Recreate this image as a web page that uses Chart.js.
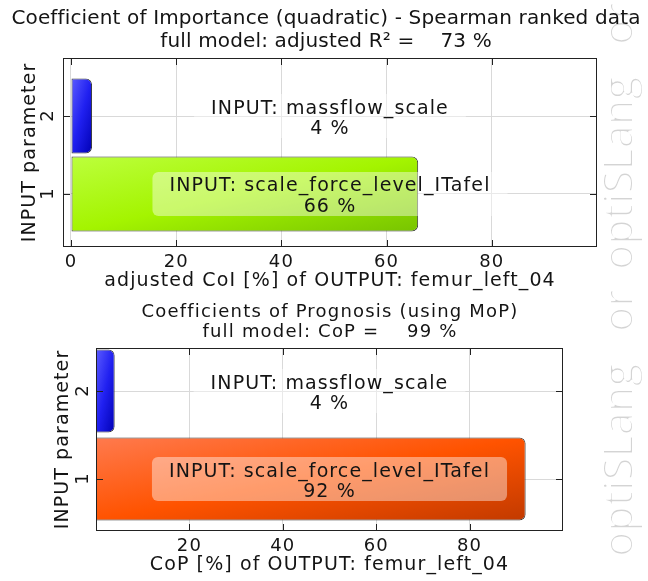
<!DOCTYPE html>
<html>
<head>
<meta charset="utf-8">
<script src="https://cdn.jsdelivr.net/npm/chart.js@4.4.1/dist/chart.umd.min.js"></script>
<style>
  html, body { margin: 0; padding: 0; background: #fff; overflow: hidden; }
  #page { position: relative; width: 648px; height: 581px; }
  #mark { position: absolute; left: 0; top: 0; }
  .box { position: absolute; left: 0; width: 648px; }
  #coiBox { top: 0; height: 295px; }
  #copBox { top: 295px; height: 286px; }
</style>
</head>
<body>
<div id="page">
  <canvas id="mark" width="648" height="581"></canvas>
  <div class="box" id="coiBox"><canvas id="coiChart"></canvas></div>
  <div class="box" id="copBox"><canvas id="copChart"></canvas></div>
</div>
<script>
// input parameters (index on the y axis) and their names
const paramIds = [1, 2];
const paramNames = ["scale_force_level_ITafel", "massflow_scale"];

// adjusted CoI [%] and CoP [%] per parameter
const coiValues = [66, 4];
const copValues = [92, 4];

const coiTicks = [0, 20, 40, 60, 80];
const copTicks = [20, 40, 60, 80];

const coiTitle = ["Coefficient of Importance (quadratic) - Spearman ranked data", "full model: adjusted R\u00b2 =    73 %"];
const copTitle = ["Coefficients of Prognosis (using MoP)", "full model: CoP =    99 %"];
const coiAxisTitle = "adjusted CoI [%] of OUTPUT: femur_left_04";
const copAxisTitle = "CoP [%] of OUTPUT: femur_left_04";

const FONT = '"DejaVu Sans", Verdana, sans-serif';

const green = ["#bcff3c", "#a4f400", "#78c400"];
const blue = ["#5c5cff", "#2020f0", "#0000b4"];
const orange = ["#ff7a4e", "#ff5300", "#c23a00"];

// gradient whose iso-lines run along the bar's anti-diagonal
function diagGradient(ctx, left, top, right, bottom, stops) {
    const w = Math.max(right - left, 1);
    const h = Math.max(bottom - top, 1);
    const s = 2 * w * h / (w * w + h * h);
    const g = ctx.createLinearGradient(left, top, left + s * h, top + s * w);
    stops.forEach((c, i) => g.addColorStop(i / (stops.length - 1), c));
    return g;
}

function barFill(palette, barPct) {
    return (c) => {
        const chart = c.chart;
        const stops = palette[c.dataIndex];
        if (!chart.chartArea || c.type !== "data") {
            return stops[1];
        }
        const xs = chart.scales.x;
        const ys = chart.scales.y;
        const half = Math.abs(ys.getPixelForValue(1) - ys.getPixelForValue(2)) * barPct / 2;
        const yc = ys.getPixelForValue(c.raw.y);
        return diagGradient(chart.ctx, xs.getPixelForValue(0), yc - half, xs.getPixelForValue(c.raw.x), yc + half, stops);
    };
}

// titles, plot frame, inward tick marks, rotated y tick labels and the bar labels
const decor = {
    id: "decor",
    beforeDraw(chart, args, o) {
        chart.ctx.letterSpacing = o.axisSpacing;
    },
    afterDatasetsDraw(chart, args, o) {
        const ctx = chart.ctx;
        const a = chart.chartArea;
        const x = chart.scales.x;
        const y = chart.scales.y;

        ctx.save();
        ctx.strokeStyle = "#222";
        ctx.lineWidth = 1;
        ctx.beginPath();
        x.ticks.forEach((t) => {
            const px = Math.round(x.getPixelForValue(t.value)) + 0.5;
            ctx.moveTo(px, a.top);
            ctx.lineTo(px, a.top + o.tickLen);
            ctx.moveTo(px, a.bottom);
            ctx.lineTo(px, a.bottom - o.tickLen);
        });
        y.ticks.forEach((t) => {
            const py = Math.round(y.getPixelForValue(t.value)) + 0.5;
            ctx.moveTo(a.left, py);
            ctx.lineTo(a.left + o.tickLen, py);
            ctx.moveTo(a.right, py);
            ctx.lineTo(a.right - o.tickLen, py);
        });
        ctx.stroke();
        ctx.strokeRect(Math.round(a.left) + 0.5, Math.round(a.top) + 0.5, Math.round(a.right - a.left) - 1, Math.round(a.bottom - a.top) - 1);

        // y tick labels, read bottom to top
        ctx.fillStyle = "#141414";
        ctx.font = "18px " + FONT;
        ctx.letterSpacing = "0px";
        ctx.textAlign = "center";
        ctx.textBaseline = "middle";
        y.ticks.forEach((t) => {
            ctx.save();
            ctx.translate(a.left - o.yLabelGap, y.getPixelForValue(t.value));
            ctx.rotate(-Math.PI / 2);
            ctx.fillText(String(t.value), 0, 1);
            ctx.restore();
        });

        ctx.font = "19px " + FONT;
        ctx.letterSpacing = "1.1px";
        ctx.textAlign = "center";
        ctx.textBaseline = "alphabetic";
        const cx = (a.left + a.right) / 2;
        paramNames.forEach((name, i) => {
            const py = y.getPixelForValue(paramIds[i]);
            const line1 = "INPUT: " + name;
            const line2 = o.values[i] + " %";
            const w = ctx.measureText(line1).width + 34;
            ctx.fillStyle = "rgba(255,255,255,0.42)";
            ctx.beginPath();
            ctx.roundRect(cx - w / 2, py - 22, w, 44, 6);
            ctx.fill();
            ctx.fillStyle = "#141414";
            ctx.fillText(line1, cx, py - 2.5);
            ctx.fillText(line2, cx, py + 18);
        });
        ctx.restore();
    },
    afterDraw(chart, args, o) {
        const ctx = chart.ctx;
        ctx.save();
        ctx.font = o.titleFont;
        ctx.letterSpacing = o.titleSpacing;
        ctx.fillStyle = "#141414";
        ctx.textAlign = "center";
        ctx.textBaseline = "alphabetic";
        o.title.forEach((line, i) => ctx.fillText(line, o.titleX, o.titleBase[i]));
        ctx.restore();
    }
};

function makeChart(id, c) {
    return new Chart(document.getElementById(id), {
        type: "bar",
        data: {
            datasets: [{
                data: paramIds.map((p, i) => ({ x: c.values[i], y: p })),
                backgroundColor: barFill(c.palette, c.barPct),
                borderColor: "#383838",
                borderWidth: 1,
                borderSkipped: false,
                borderRadius: { topLeft: 0, bottomLeft: 0, topRight: 6, bottomRight: 6 },
                barPercentage: c.barPct,
                categoryPercentage: 1
            }]
        },
        options: {
            indexAxis: "y",
            responsive: true,
            maintainAspectRatio: false,
            animation: false,
            layout: { padding: { top: c.padTop, right: c.padRight, left: 0, bottom: 0 } },
            plugins: {
                legend: { display: false },
                tooltip: { enabled: false },
                title: { display: false },
                decor: {
                    title: c.title,
                    titleFont: c.titleFont,
                    titleSpacing: c.titleSpacing,
                    titleX: c.titleX,
                    titleBase: c.titleBase,
                    axisSpacing: "1.1px",
                    tickLen: 7,
                    yLabelGap: c.yLabelGap,
                    values: c.values
                }
            },
            scales: {
                x: {
                    type: "linear",
                    min: c.xMin,
                    max: 100,
                    afterBuildTicks: (s) => { s.ticks = c.xTicks.map((v) => ({ value: v })); },
                    afterFit: (s) => { s.height = c.xHeight; },
                    grid: { color: "#d9d9d9", drawTicks: false },
                    border: { display: false },
                    ticks: { color: "#141414", font: { family: FONT, size: 18 }, padding: c.xTickPad, maxRotation: 0 },
                    title: {
                        display: true,
                        text: c.axisTitle,
                        color: "#141414",
                        font: { family: FONT, size: 19 },
                        padding: { top: 0, bottom: c.xTitlePad }
                    }
                },
                y: {
                    type: "linear",
                    offset: false,
                    min: c.yMin,
                    max: c.yMax,
                    afterBuildTicks: (s) => { s.ticks = paramIds.map((v) => ({ value: v })); },
                    afterFit: (s) => { s.width = c.yWidth; },
                    grid: { color: "#d9d9d9", drawTicks: false, offset: false },
                    border: { display: false },
                    ticks: { display: false },
                    title: {
                        display: true,
                        text: "INPUT parameter",
                        color: "#141414",
                        font: { family: FONT, size: 19 },
                        padding: { top: c.yTitlePad, bottom: 0 }
                    }
                }
            }
        },
        plugins: [decor]
    });
}

makeChart("coiChart", {
    values: coiValues,
    palette: [green, blue],
    barPct: 0.96,
    title: coiTitle,
    titleFont: "20px " + FONT,
    titleSpacing: "0.15px",
    titleX: 326,
    titleBase: [24, 47],
    axisTitle: coiAxisTitle,
    xTicks: coiTicks,
    xMin: -1.52,
    yMin: 0.32,
    yMax: 2.744,
    padTop: 58,
    padRight: 51,
    xHeight: 48,
    yWidth: 63,
    xTickPad: 4.2,
    xTitlePad: 2.6,
    yLabelGap: 15.5,
    yTitlePad: 18.6
});

makeChart("copChart", {
    values: copValues,
    palette: [orange, blue],
    barPct: 0.943,
    title: copTitle,
    titleFont: "18px " + FONT,
    titleSpacing: "1.2px",
    titleX: 330,
    titleBase: [22, 42],
    axisTitle: copAxisTitle,
    xTicks: copTicks,
    xMin: 0,
    yMin: 0.409,
    yMax: 2.489,
    padTop: 53,
    padRight: 85,
    xHeight: 50,
    yWidth: 96,
    xTickPad: 4.7,
    xTitlePad: 4.6,
    yLabelGap: 14,
    yTitlePad: 51.6
});

// vertical watermark down the right edge, reading bottom to top;
// a white outline thins the strokes of the letters
const mark = document.getElementById("mark").getContext("2d");
mark.font = '42px "Open Sans", Lato, sans-serif';
mark.textBaseline = "alphabetic";
mark.lineJoin = "round";
[["optiSLang", 557], ["or", 332], ["optiSLang", 270], ["or", 45]].forEach(([word, start]) => {
    mark.save();
    mark.translate(633, start);
    mark.rotate(-Math.PI / 2);
    mark.fillStyle = "#d4d4d4";
    mark.fillText(word, 0, 0);
    mark.strokeStyle = "#ffffff";
    mark.lineWidth = 2;
    mark.strokeText(word, 0, 0);
    mark.restore();
});
</script>
</body>
</html>
